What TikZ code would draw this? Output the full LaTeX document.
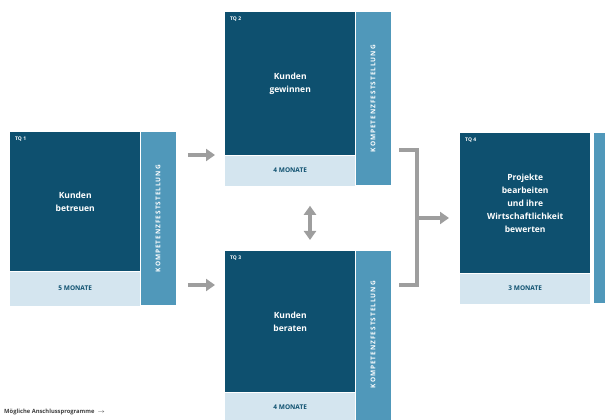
\documentclass[tikz,border=0pt]{standalone}
\usepackage{fontspec}
\setmainfont{Open Sans}
\newfontfamily\spaced[LetterSpace=15]{Open Sans}
\usetikzlibrary{arrows.meta,positioning}
\definecolor{tqdark}{RGB}{14,80,111}
\definecolor{tqstrip}{RGB}{80,152,186}
\definecolor{tqlight}{RGB}{212,229,239}
\definecolor{tqgray}{RGB}{158,158,158}
\begin{document}
\begin{tikzpicture}[x=1pt,y=1pt]
\tikzstyle{every node}+=[inner sep=0pt]
\tikzstyle{tqbox}=[fill=tqdark, text=white, align=center, minimum width=130pt, anchor=north west, font=\bfseries\fontsize{8.5}{13}\selectfont]
\tikzstyle{monbox}=[fill=tqlight, text=tqdark, minimum width=130pt, below=0pt of #1, font=\bfseries\fontsize{6.5}{8}\selectfont]
\tikzstyle{kompbox}=[fill=tqstrip, minimum width=35pt, anchor=north west]
\tikzstyle{komptext}=[rotate=90, text=white, font=\spaced\bfseries\fontsize{6.5}{7}\selectfont]
\tikzstyle{tqlabel}=[text=white, anchor=north west, font=\bfseries\fontsize{5}{6}\selectfont]
\tikzstyle{pfeil}=[tqgray, line width=4pt, -{Triangle[width=12pt,length=9pt]}]
\useasboundingbox (0,0) rectangle (605,420);
% TQ 1
\node [tqbox, minimum height=139pt] (tq1) at (10,288) {Kunden\\betreuen};
\node [monbox=tq1, minimum height=34pt] (mon1) {5 MONATE};
\node [kompbox, minimum height=173pt] (komp1) at (tq1.north east) {};
\node [komptext] at (komp1.center) {KOMPETENZFESTSTELLUNG};
\node [tqlabel] at ([shift={(5,-5)}]tq1.north west) {TQ 1};
% TQ 2
\node [tqbox, minimum height=143pt] (tq2) at (225,408) {Kunden\\gewinnen};
\node [monbox=tq2, minimum height=30pt] (mon2) {4 MONATE};
\node [kompbox, minimum height=173pt] (komp2) at (tq2.north east) {};
\node [komptext] at (komp2.center) {KOMPETENZFESTSTELLUNG};
\node [tqlabel] at ([shift={(5,-5)}]tq2.north west) {TQ 2};
% TQ 3
\node [tqbox, minimum height=141pt] (tq3) at (225,169) {Kunden\\beraten};
\node [monbox=tq3, minimum height=30pt] (mon3) {4 MONATE};
\node [kompbox, minimum height=171pt] (komp3) at (tq3.north east) {};
\node [komptext] at ([yshift=2pt]komp3.center) {KOMPETENZFESTSTELLUNG};
\node [tqlabel] at ([shift={(5,-5)}]tq3.north west) {TQ 3};
% TQ 4
\node [tqbox, minimum height=140pt] (tq4) at (460,287) {Projekte\\bearbeiten\\und ihre\\Wirtschaftlichkeit\\bewerten};
\node [monbox=tq4, minimum height=30pt] (mon4) {3 MONATE};
\node [kompbox, minimum height=170pt] (komp4) at ([xshift=3pt]tq4.north east) {};
\node [tqlabel] at ([shift={(5,-5)}]tq4.north west) {TQ 4};
% Pfeile
\draw [pfeil, shorten >=10pt] ([yshift=-23pt]komp1.north east) ++(12,0) coordinate (a1) -- (a1 -| tq2.west);
\draw [pfeil, shorten >=10pt] ([yshift=-153pt]komp1.north east) ++(12,0) coordinate (a2) -- (a2 -| tq3.west);
\draw [tqgray, line width=4pt, {Triangle[width=12pt,length=9pt]}-{Triangle[width=12pt,length=9pt]}] ([yshift=-20pt]mon2.south -| 310,0) coordinate (b1) -- ([yshift=11pt]tq3.north -| b1);
\coordinate (k1) at (399,270);
\coordinate (k2) at (399,135);
\draw [tqgray, line width=4pt] (k1) -- ++(18,0) coordinate (k3) -- (k3 |- k2) -- (k2);
\coordinate (k4) at (417,202);
\draw [pfeil, shorten >=11pt] (k4) -- (k4 -| tq4.west);
% Legende
\node [anchor=west, text=black!75, font=\bfseries\fontsize{5.8}{7}\selectfont] (leg) at (4,8) {Mögliche Anschlussprogramme \ $\rightarrow$};
\end{tikzpicture}
\end{document}
